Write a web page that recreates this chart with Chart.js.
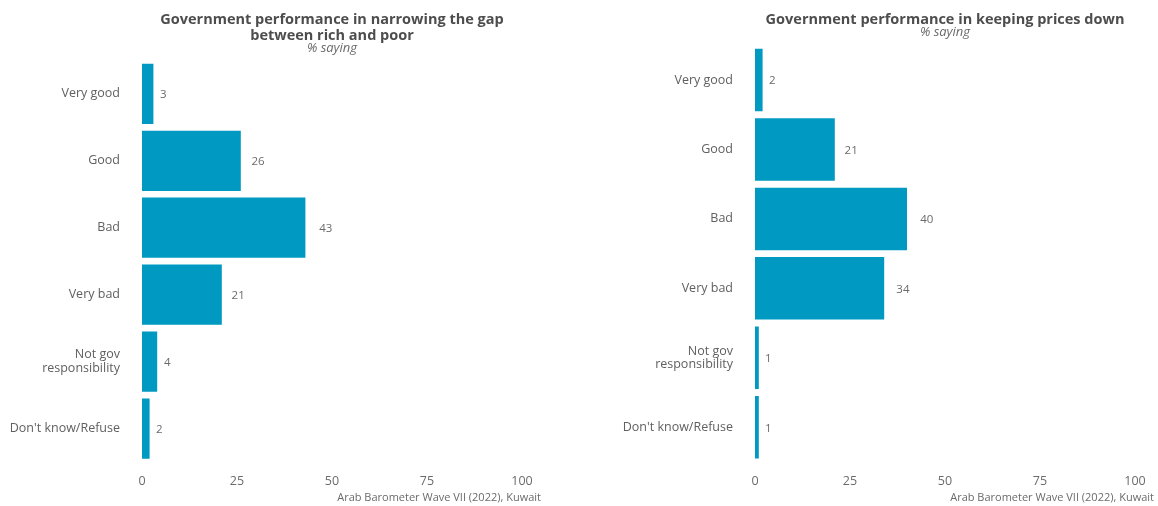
<!DOCTYPE html>
<html>
<head>
<meta charset="utf-8">
<script src="https://cdn.jsdelivr.net/npm/chart.js@4.4.1/dist/chart.umd.min.js"></script>
<style>
  html, body { margin: 0; padding: 0; background: #ffffff; }
  body { width: 1158px; height: 506px; position: relative; overflow: hidden; }
  .panel { position: absolute; top: 0; height: 506px; }
  #leftPanel { left: 0; width: 545px; }
  #rightPanel { left: 545px; width: 613px; }
</style>
</head>
<body>
<div class="panel" id="leftPanel"><canvas id="leftChart"></canvas></div>
<div class="panel" id="rightPanel"><canvas id="rightChart"></canvas></div>
<script>
const categories = ["Very good", "Good", "Bad", "Very bad", ["Not gov", "responsibility"], "Don't know/Refuse"];
const gapValues = [3, 26, 43, 21, 4, 2];
const pricesValues = [2, 21, 40, 34, 1, 1];
const xTickValues = [0, 25, 50, 75, 100];
const leftTitle = ["Government performance in narrowing the gap", "between rich and poor"];
const rightTitle = "Government performance in keeping prices down";
const subtitleText = "% saying";
const captionText = "Arab Barometer Wave VII (2022), Kuwait";

const FONT = "'Open Sans', 'Noto Sans', sans-serif";
const BAR_COLOR = "#0099c1";

const valueLabels = {
  id: "valueLabels",
  afterDatasetsDraw(chart) {
    const ctx = chart.ctx;
    const meta = chart.getDatasetMeta(0);
    const data = chart.data.datasets[0].data;
    ctx.save();
    ctx.font = "11.5px " + FONT;
    ctx.fillStyle = "#6b6b6b";
    ctx.textAlign = "left";
    ctx.textBaseline = "middle";
    meta.data.forEach((bar, i) => {
      const v = data[i];
      ctx.fillText(String(v), bar.x + 6 + 0.18 * v, bar.y + 1);
    });
    ctx.restore();
  }
};

const caption = {
  id: "caption",
  afterDraw(chart) {
    const ctx = chart.ctx;
    ctx.save();
    ctx.font = "11px " + FONT;
    ctx.fillStyle = "#6b6b6b";
    ctx.textAlign = "right";
    ctx.textBaseline = "middle";
    ctx.fillText(captionText, chart.width - 4, 498);
    ctx.restore();
  }
};

function makeChart(canvasId, values, title, yWidth, subPadBottom) {
  return new Chart(document.getElementById(canvasId), {
    type: "bar",
    data: {
      labels: categories,
      datasets: [{
        data: values,
        backgroundColor: BAR_COLOR,
        borderWidth: 0,
        categoryPercentage: 1.0,
        barPercentage: 0.9
      }]
    },
    options: {
      indexAxis: "y",
      responsive: true,
      maintainAspectRatio: false,
      animation: false,
      layout: { padding: { left: 0, right: 23, top: 0, bottom: 0 } },
      plugins: {
        legend: { display: false },
        tooltip: { enabled: false },
        title: {
          display: true,
          text: title,
          fullSize: false,
          color: "#4d4d4d",
          font: { family: FONT, size: 14.5, weight: "bold", lineHeight: 1.1 },
          padding: { top: 12, bottom: 0 }
        },
        subtitle: {
          display: true,
          text: subtitleText,
          fullSize: false,
          color: "#6b6b6b",
          font: { family: FONT, size: 13, style: "italic", lineHeight: 1.0 },
          padding: { top: -2.5, bottom: subPadBottom }
        }
      },
      scales: {
        x: {
          type: "linear",
          min: 0,
          max: 100,
          afterBuildTicks(scale) {
            scale.ticks = xTickValues.map(v => ({ value: v }));
          },
          afterFit(scale) { scale.height = 44; },
          grid: { display: false, drawTicks: false },
          border: { display: false },
          ticks: {
            color: "#6b6b6b",
            padding: 12,
            font: { family: FONT, size: 12.5 },
            maxRotation: 0
          }
        },
        y: {
          afterFit(scale) { scale.width = yWidth; },
          grid: { display: false, drawTicks: false },
          border: { display: false },
          ticks: {
            color: "#606060",
            padding: 22,
            font: { family: FONT, size: 12.5, lineHeight: 1.1 }
          }
        }
      }
    },
    plugins: [valueLabels, caption]
  });
}

makeChart("leftChart", gapValues, leftTitle, 142, 6);
makeChart("rightChart", pricesValues, rightTitle, 210, 6.8);
</script>
</body>
</html>
